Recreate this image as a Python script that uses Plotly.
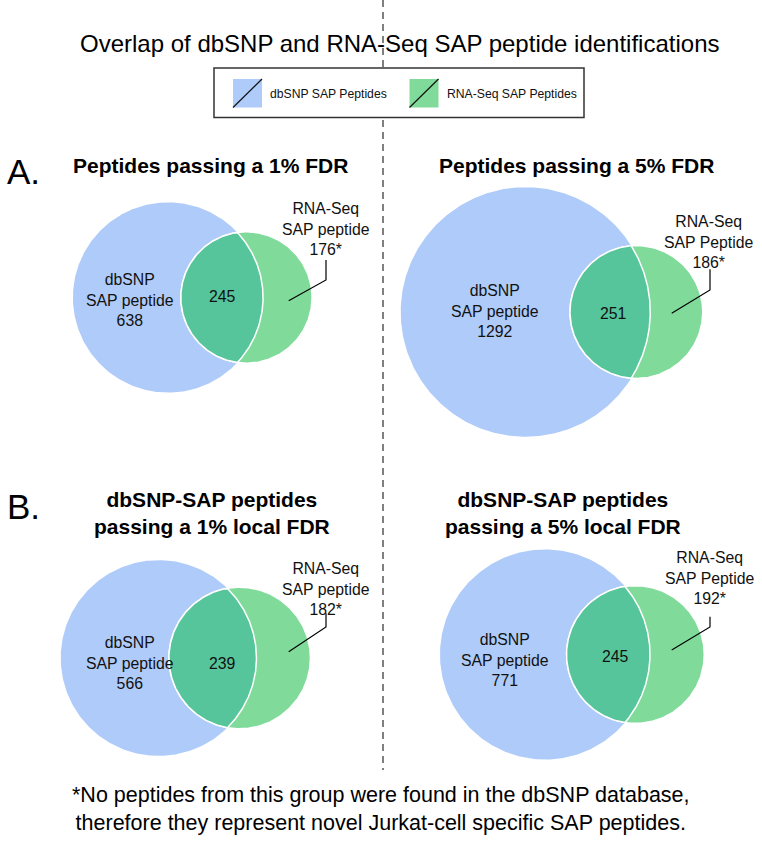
import math
import numpy as np
import plotly.graph_objects as go

# ---------------- data ----------------
panel_titles = [
    "Peptides passing a 1% FDR",
    "Peptides passing a 5% FDR",
    "dbSNP-SAP peptides<br>passing a 1% local FDR",
    "dbSNP-SAP peptides<br>passing a 5% local FDR",
]
dbsnp_only = [638, 1292, 566, 771]
overlap = [245, 251, 239, 245]
rnaseq_only = [176, 186, 182, 192]
rna_word = ["peptide", "Peptide", "peptide", "Peptide"]
section_labels = ["A.", "B."]
legend_labels = ["dbSNP SAP Peptides", "RNA-Seq SAP Peptides"]
main_title = "Overlap of dbSNP and RNA-Seq SAP peptide identifications"
footnote = ("*No peptides from this group were found in the dbSNP database,<br>"
            "therefore they represent novel Jurkat-cell specific SAP peptides.")

# ---------------- layout / style ----------------
W, H = 762, 843
BLUE = "#afcbf9"
GREEN = "#80db9b"
OVER = "#57c59b"
FONT = "Liberation Sans, Arial, sans-serif"

blue_cx = [168, 525.5, 158.6, 545]
blue_cy = [297.5, 312, 658, 654.5]
scale_k = [3.2, 3.177, 3.45, 3.295]
title_xy = [(210.5, 165), (576, 165), (212, 513), (563, 513)]
db_label_xy = [(130, 299.5), (495, 311), (130, 663), (505, 660)]
ov_label_xy = [(222.7, 296.5), (613.3, 313.3), (222.7, 663.3), (615, 656.7)]
rna_label_xy = [(326, 229), (709, 242), (326, 588.5), (710, 578.3)]
leaders = [
    [(326, 260), (326, 280), (288.7, 300.7)],
    [(710, 269.3), (710, 290), (671.7, 313.3)],
    [(326, 613.3), (326, 627), (288.7, 651.7)],
    [(710, 616.7), (710, 627), (671.7, 650)],
]
section_xy = [(5, 171), (5, 506)]


def lens_area(d, r1, r2):
    if d >= r1 + r2:
        return 0.0
    if d <= abs(r1 - r2):
        return math.pi * min(r1, r2) ** 2
    a1 = r1 ** 2 * math.acos((d * d + r1 * r1 - r2 * r2) / (2 * d * r1))
    a2 = r2 ** 2 * math.acos((d * d + r2 * r2 - r1 * r1) / (2 * d * r2))
    a3 = 0.5 * math.sqrt((-d + r1 + r2) * (d + r1 - r2) * (d - r1 + r2) * (d + r1 + r2))
    return a1 + a2 - a3


def solve_d(r1, r2, target):
    lo, hi = abs(r1 - r2) + 1e-6, r1 + r2 - 1e-6
    for _ in range(100):
        mid = 0.5 * (lo + hi)
        if lens_area(mid, r1, r2) > target:
            lo = mid
        else:
            hi = mid
    return 0.5 * (lo + hi)


fig = go.Figure()
annotations = []
shapes = []

# dashed divider
fig.add_trace(go.Scatter(x=[383, 383], y=[0, 770], mode="lines",
                         line=dict(color="black", width=1, dash="7px,5px"),
                         hoverinfo="skip"))

for i in range(4):
    k = scale_k[i]
    n1 = dbsnp_only[i] + overlap[i]
    n2 = rnaseq_only[i] + overlap[i]
    r1 = k * math.sqrt(n1)
    r2 = k * math.sqrt(n2)
    target = math.pi * k * k * overlap[i]
    d = solve_d(r1, r2, target)
    cx1, cy = blue_cx[i], blue_cy[i]
    cx2 = cx1 + d

    t = np.linspace(0, 2 * np.pi, 361)
    fig.add_trace(go.Scatter(x=cx1 + r1 * np.cos(t), y=cy + r1 * np.sin(t),
                             mode="lines", fill="toself", fillcolor=BLUE,
                             line=dict(width=0, color=BLUE), hoverinfo="skip"))
    fig.add_trace(go.Scatter(x=cx2 + r2 * np.cos(t), y=cy + r2 * np.sin(t),
                             mode="lines", fill="toself", fillcolor=GREEN,
                             line=dict(width=1.5, color="white"), hoverinfo="skip"))
    a = (d * d + r1 * r1 - r2 * r2) / (2 * d)
    h = math.sqrt(max(r1 * r1 - a * a, 0))
    al2 = math.atan2(h, a - d)
    al1 = math.atan2(h, a)
    t2 = np.linspace(al2, 2 * np.pi - al2, 200)
    t1 = np.linspace(-al1, al1, 200)
    lx = np.concatenate([cx2 + r2 * np.cos(t2), cx1 + r1 * np.cos(t1)])
    ly = np.concatenate([cy + r2 * np.sin(t2), cy + r1 * np.sin(t1)])
    fig.add_trace(go.Scatter(x=lx, y=ly, mode="lines", fill="toself",
                             fillcolor=OVER, line=dict(width=1.5, color="white"),
                             hoverinfo="skip"))

    # leader line
    lxs, lys = zip(*leaders[i])
    fig.add_trace(go.Scatter(x=list(lxs), y=list(lys), mode="lines",
                             line=dict(color="black", width=1.2), hoverinfo="skip"))

    annotations.append(dict(x=title_xy[i][0], y=title_xy[i][1], text="<b>" + panel_titles[i] + "</b>",
                            showarrow=False, font=dict(size=21, color="black", family=FONT),
                            xanchor="center", yanchor="middle"))
    annotations.append(dict(x=db_label_xy[i][0], y=db_label_xy[i][1],
                            text=f"dbSNP<br>SAP peptide<br>{dbsnp_only[i]}",
                            showarrow=False, font=dict(size=15.8, color="#111", family=FONT),
                            xanchor="center", yanchor="middle"))
    annotations.append(dict(x=ov_label_xy[i][0], y=ov_label_xy[i][1], text=f"{overlap[i]}",
                            showarrow=False, font=dict(size=15.8, color="#111", family=FONT),
                            xanchor="center", yanchor="middle"))
    annotations.append(dict(x=rna_label_xy[i][0], y=rna_label_xy[i][1],
                            text=f"RNA-Seq<br>SAP {rna_word[i]}<br>{rnaseq_only[i]}*",
                            showarrow=False, font=dict(size=15.8, color="#111", family=FONT),
                            xanchor="center", yanchor="middle"))

for lab, (x, y) in zip(section_labels, section_xy):
    annotations.append(dict(x=x, y=y, text=lab, showarrow=False,
                            font=dict(size=35, color="black", family=FONT),
                            xanchor="left", yanchor="middle"))

annotations.append(dict(x=400, y=43, text=main_title, showarrow=False,
                        font=dict(size=24, color="black", family=FONT),
                        xanchor="center", yanchor="middle"))
annotations.append(dict(x=381, y=809, text=footnote, showarrow=False,
                        font=dict(size=21.5, color="black", family=FONT),
                        xanchor="center", yanchor="middle"))

# legend box
shapes.append(dict(type="rect", xref="x", yref="y", x0=214, x1=584, y0=68, y1=117.5,
                   fillcolor="white", line=dict(color="#333", width=1.5), layer="above"))
sw_x = [233, 409.5]
sw_col = [BLUE, GREEN]
for j in range(2):
    shapes.append(dict(type="rect", xref="x", yref="y", x0=sw_x[j], x1=sw_x[j] + 29,
                       y0=79, y1=107.5, fillcolor=sw_col[j], line=dict(width=0), layer="above"))
    shapes.append(dict(type="line", xref="x", yref="y", x0=sw_x[j], x1=sw_x[j] + 29,
                       y0=107.5, y1=79, line=dict(color="#111", width=1.2), layer="above"))
    annotations.append(dict(x=sw_x[j] + 35, y=93.5, text=legend_labels[j], showarrow=False,
                            font=dict(size=12.2, color="#111", family=FONT),
                            xanchor="left", yanchor="middle"))

fig.update_layout(
    width=W, height=H, margin=dict(l=0, r=0, t=0, b=0),
    paper_bgcolor="white", plot_bgcolor="white", showlegend=False,
    xaxis=dict(range=[0, W], visible=False, fixedrange=True),
    yaxis=dict(range=[H, 0], visible=False, fixedrange=True),
    annotations=annotations, shapes=shapes,
)
fig.write_html("out.html", config={"displayModeBar": False},
               post_script="document.body.style.margin='0';document.body.style.overflow='hidden';")
